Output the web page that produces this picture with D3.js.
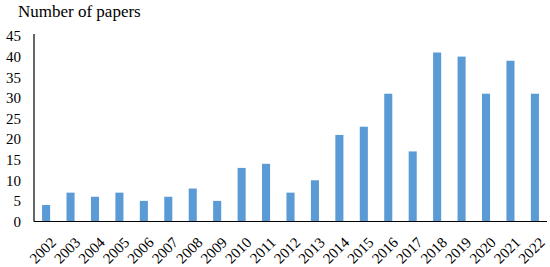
<!DOCTYPE html>
<html>
<head>
<meta charset="utf-8">
<script src="https://cdn.jsdelivr.net/npm/d3@7"></script>
<style>
  body { margin: 0; background: #fff; }
  text { font-family: "Liberation Serif", "Times New Roman", serif; fill: #000; }
</style>
</head>
<body>
<svg id="chart" width="550" height="267"></svg>
<script>
const years = ['2002', '2003', '2004', '2005', '2006', '2007', '2008', '2009', '2010', '2011', '2012',
    '2013', '2014', '2015', '2016', '2017', '2018', '2019', '2020', '2021', '2022']
const papers = [4, 7, 6, 7, 5, 6, 8, 5, 13, 14, 7, 10, 21, 23, 31, 17, 41, 40, 31, 39, 31]
const yTicks = [0, 5, 10, 15, 20, 25, 30, 35, 40, 45]

const svg = d3.select('#chart')
const plotL = 34, plotR = 547, plotT = 36, plotB = 221.5

const x = d3.scaleBand().domain(years).range([plotL, plotR]).paddingInner(0.67).paddingOuter(0.33)
const y = d3.scaleLinear().domain([0, 45]).range([plotB, plotT])

// title
svg.append('text')
    .attr('x', 18)
    .attr('y', 17)
    .style('font-size', '17px')
    .text('Number of papers')

// bars
svg.selectAll('.bar').data(papers).join('rect')
    .attr('class', 'bar')
    .attr('x', (d, i) => x(years[i]))
    .attr('y', d => y(d))
    .attr('width', x.bandwidth())
    .attr('height', d => plotB - y(d))
    .attr('fill', '#5B9BD5')

// y axis
const yAxis = svg.append('g')
    .attr('transform', `translate(${plotL},0)`)
    .call(d3.axisLeft(y).tickValues(yTicks).tickSize(0).tickPadding(13))
yAxis.select('.domain').attr('stroke', '#000').attr('stroke-width', 1.2).attr('d', `M0,${plotT - 2}V${plotB}`)
yAxis.selectAll('text').style('font-size', '15px').attr('fill', '#000')

// x axis
const xAxis = svg.append('g')
    .attr('transform', `translate(0,${plotB})`)
    .call(d3.axisBottom(x).tickSize(0))
xAxis.select('.domain').attr('stroke', '#000').attr('stroke-width', 1.2).attr('d', `M${plotL},0H${plotR}`)
xAxis.selectAll('text')
    .style('font-size', '15px')
    .attr('fill', '#000')
    .attr('text-anchor', 'end')
    .attr('dy', '0.35em')
    .attr('transform', 'translate(5,16) rotate(-45)')
</script>
</body>
</html>
